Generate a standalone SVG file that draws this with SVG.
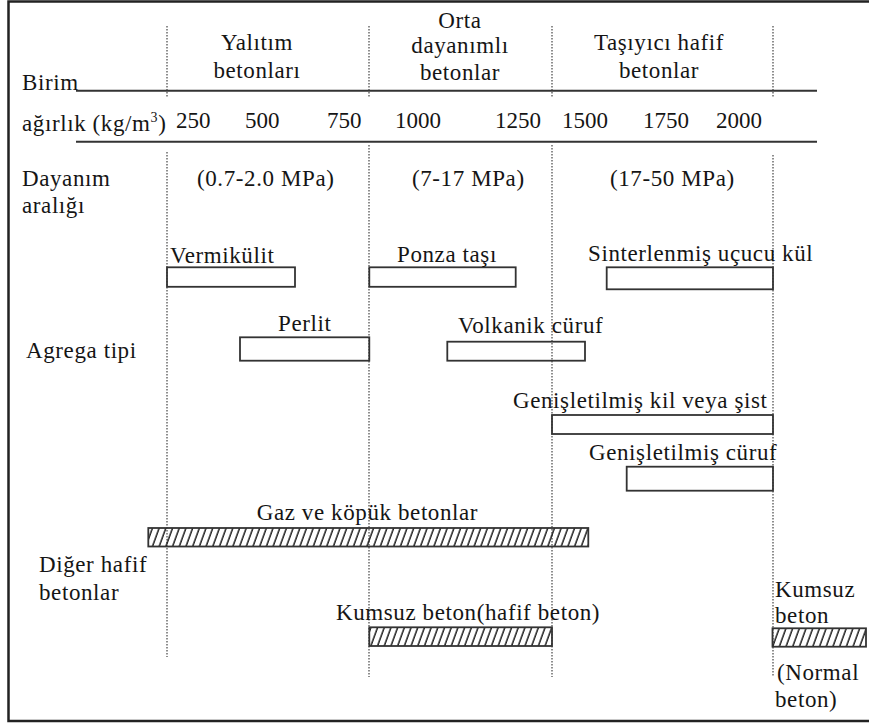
<svg xmlns="http://www.w3.org/2000/svg" width="869" height="724" viewBox="0 0 869 724">
<defs>
<pattern id="hatch" patternUnits="userSpaceOnUse" width="6.7" height="20" patternTransform="skewX(-20)">
<line x1="3" y1="-1" x2="3" y2="21" stroke="#111" stroke-width="1.5"/>
</pattern>
<style>
text{font-family:'Liberation Serif','DejaVu Serif',serif;font-size:23px;fill:#151515;letter-spacing:0.6px}
.n{letter-spacing:0}
.m{text-anchor:middle}
.dot{stroke:#444;stroke-width:1.2;stroke-dasharray:1.5 1.5;fill:none}
.ln{stroke:#333;stroke-width:2;fill:none}
.box{fill:none;stroke:#333;stroke-width:1.8}
.hb{fill:url(#hatch);stroke:#333;stroke-width:1.8}
.frame{fill:none;stroke:#222;stroke-width:2.5}
</style>
</defs>
<rect width="869" height="724" fill="#fff"/>
<path class="frame" d="M870 1.5 H8.5 V721 H870"/>

<g id="connectors">
<path class="dot" d="M167 26 V98 M167 152 V657"/>
<path class="dot" d="M369 26 V98 M369 145 V677"/>
<path class="dot" d="M552 26 V98 M552 145 V677"/>
<path class="dot" d="M773 26 V98 M773 155 V677"/>
<path class="ln" d="M76 90.7 H817 M76 141.7 H817"/>
</g>

<g id="headers" font-family="Liberation Serif, DejaVu Serif, serif">
<text class="m" x="257" y="50">Yalıtım</text>
<text class="m" x="257" y="78">betonları</text>
<text class="m" x="460" y="28">Orta</text>
<text class="m" x="460" y="53">dayanımlı</text>
<text class="m" x="460" y="80">betonlar</text>
<text class="m" x="659" y="50">Taşıyıcı hafif</text>
<text class="m" x="659" y="78">betonlar</text>
</g>

<g id="row-labels">
<text x="22" y="90">Birim</text>
<text x="22" y="131">ağırlık (kg/m<tspan font-size="14" dy="-9">3</tspan><tspan dy="9">)</tspan></text>
<text x="22" y="186">Dayanım</text>
<text x="22" y="213">aralığı</text>
<text x="26" y="358">Agrega tipi</text>
<text x="39" y="572">Diğer hafif</text>
<text x="39" y="600">betonlar</text>
</g>

<g id="numbers">
<text class="n" x="176" y="128">250</text>
<text class="n" x="245" y="128">500</text>
<text class="n" x="327" y="128">750</text>
<text class="n" x="395" y="128">1000</text>
<text class="n" x="495" y="128">1250</text>
<text class="n" x="562" y="128">1500</text>
<text class="n" x="643" y="128">1750</text>
<text class="n" x="716" y="128">2000</text>
</g>

<g id="strength">
<text x="197" y="186">(0.7-2.0 MPa)</text>
<text x="412" y="186">(7-17 MPa)</text>
<text x="610" y="186">(17-50 MPa)</text>
</g>

<g id="vermikulit">
<rect class="box" x="167" y="267.3" width="128" height="19.5"/>
<text x="170" y="262.5">Vermikülit</text>
</g>
<g id="perlit">
<rect class="box" x="240" y="337.3" width="129.3" height="23.4"/>
<text x="278" y="331">Perlit</text>
</g>
<g id="ponza">
<rect class="box" x="369.3" y="267.3" width="146.4" height="19.5"/>
<text x="397" y="262">Ponza taşı</text>
</g>
<g id="sinter">
<rect class="box" x="606.7" y="267.3" width="166.3" height="22"/>
<text x="588" y="261">Sinterlenmiş uçucu kül</text>
</g>
<g id="volkanik">
<rect class="box" x="447.3" y="341.7" width="137.7" height="19"/>
<text x="458" y="333">Volkanik cüruf</text>
</g>
<g id="genkil">
<rect class="box" x="552" y="415" width="221" height="19"/>
<text x="513" y="408">Genişletilmiş kil veya şist</text>
</g>
<g id="gencuruf">
<rect class="box" x="626.7" y="466.7" width="146.3" height="24"/>
<text x="589" y="460">Genişletilmiş cüruf</text>
</g>
<g id="gaz">
<rect class="hb" x="148.3" y="528" width="440" height="18.5"/>
<text x="256.7" y="520">Gaz ve köpük betonlar</text>
</g>
<g id="kumsuz-hafif">
<rect class="hb" x="369.3" y="627.3" width="182.7" height="18.7"/>
<text x="336" y="620">Kumsuz beton(hafif beton)</text>
</g>
<g id="kumsuz-normal">
<rect class="hb" x="772.5" y="628.3" width="93.5" height="18.4"/>
<text x="775" y="596.7">Kumsuz</text>
<text x="775" y="623">beton</text>
<text x="777" y="680">(Normal</text>
<text x="775" y="707">beton)</text>
</g>
</svg>
